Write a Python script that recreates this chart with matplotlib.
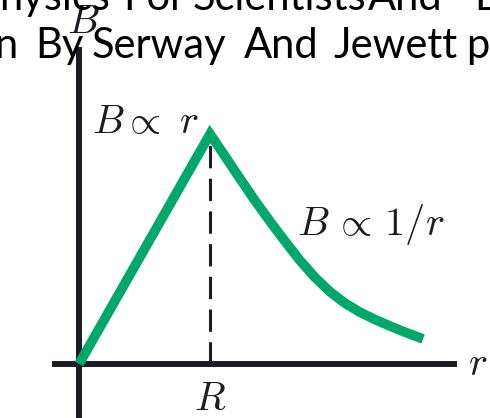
import matplotlib.pyplot as plt

plt.rcParams['mathtext.fontset'] = 'cm'

# field magnitude B vs distance r (r in units of R, B in units of the peak)
r_vals = [0.0, 1.0, 1.115, 1.229, 1.344, 1.458, 1.573, 1.687, 1.802, 1.916,
          2.031, 2.145, 2.260, 2.374, 2.489, 2.626]
b_vals = [0.0, 1.0, 0.903, 0.806, 0.710, 0.620, 0.533, 0.450, 0.376, 0.314,
          0.264, 0.225, 0.193, 0.165, 0.138, 0.109]
R_mark = 1.0

# caption words across the top, with their left edges in pixels
line1_words = ['hysics', 'For', 'Scientists', 'And', 'E']
line1_x = [110, 123, 193, 368, 474]
line2_words = ['n', 'By', 'Serway', 'And', 'Jewett', 'p']
line2_x = [17, 35, 92, 244, 333, 466]

GREEN = '#00a76b'
INK = '#1c1c24'
W, H = 490, 418

fig = plt.figure(figsize=(W / 100, H / 100), dpi=100)
ax = fig.add_axes([0, 0, 1, 1])
ax.set_xlim(-0.603, 3.137)
ax.set_ylim(-0.235, 1.583)
ax.axis('off')

# axes drawn by hand
ax.plot([-0.206, 2.885], [0, 0], color=INK, lw=4.3, solid_capstyle='butt', zorder=2)
ax.plot([0, 0], [-0.3, 1.378], color=INK, lw=4.3, solid_capstyle='butt', zorder=2)

# dashed drop line at r = R
peak = b_vals[r_vals.index(R_mark)]
ax.plot([R_mark, R_mark], [0, peak * 0.97], color=INK, lw=2.2,
        dashes=(7.3, 3.4), dash_capstyle='butt', zorder=1)

# the B(r) curve
ax.plot(r_vals, b_vals, color=GREEN, lw=7.0, solid_joinstyle='miter',
        solid_capstyle='butt', zorder=3)

fs = 29
ax.text(0.099, 1.004, r'$B \propto\ r$', fontsize=fs, color=INK, ha='left', va='baseline')
ax.text(1.664, 0.561, r'$B\,\propto\,1/r$', fontsize=fs, color=INK, ha='left', va='baseline')
ax.text(R_mark, -0.2, r'$R$', fontsize=fs, color=INK, ha='center', va='baseline')
ax.text(2.97, -0.048, r'$r$', fontsize=fs, color=INK, ha='left', va='baseline')
ax.text(-0.092, 1.439, r'$B$', fontsize=fs, color=INK, ha='left', va='baseline', zorder=4)

# caption text; first word of each line is right-aligned since it runs off the left edge
cap = dict(fontsize=30, family='Lato', color='black', va='baseline',
           transform=fig.transFigure, zorder=5)
for words, xs, base in [(line1_words, line1_x, 10), (line2_words, line2_x, 58)]:
    for i, (w, x) in enumerate(zip(words, xs)):
        fig.text(x / W, 1 - base / H, w, ha='right' if i == 0 else 'left', **cap)

fig.savefig('out.png', dpi=100)
